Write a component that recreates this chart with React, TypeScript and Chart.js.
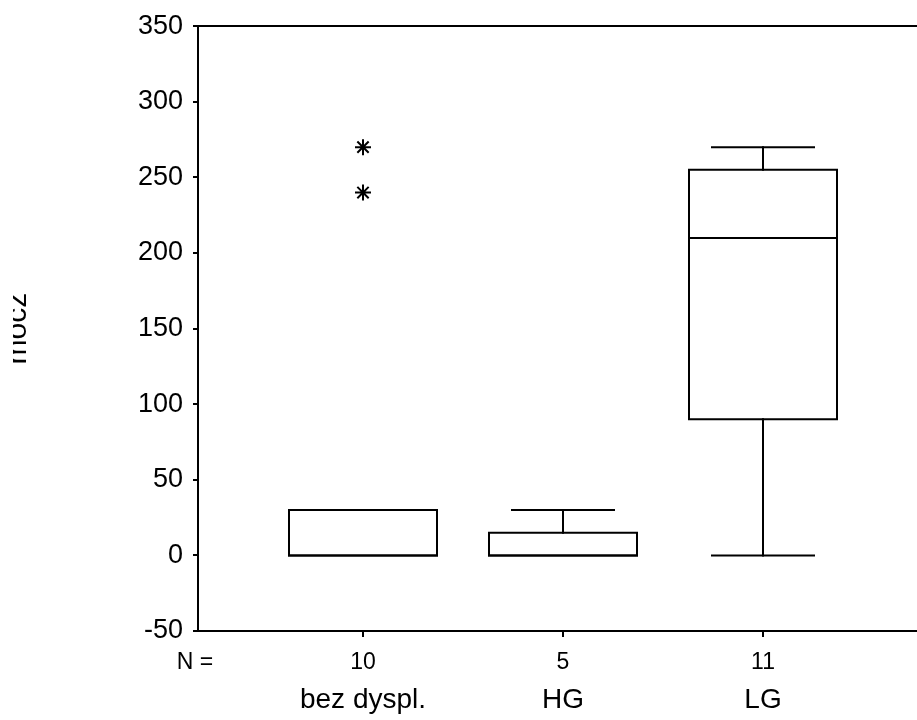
import React, { useEffect, useRef } from "react";
import { Chart, registerables } from "chart.js";

Chart.register(...registerables);

// ---- data ----
const categories = ["bez dyspl.", "HG", "LG"];
const counts = ["10", "5", "11"];
const mins = [0, 0, 0];
const q1s = [0, 0, 90];
const medians = [0, 0, 210];
const q3s = [30, 15, 255];
const maxs = [30, 30, 270];
const extremeGroups = [1, 1];
const extremeValues = [270, 240];
const yTicks = [-50, 0, 50, 100, 150, 200, 250, 300, 350];
const yTitle = "mocz";
const countPrefix = "N =";

const FONT = "Arial, 'Liberation Sans', sans-serif";
const BOX_PX = 148;
const CAP_PX = 102;
const X_MIN = 0.175;
const X_MAX = 3.77;
const N_FONT = 23;
const N_PAD = 12;
const N_TICK = 6;

const positions = categories.map((_, i) => i + 1);

const boxExtras = {
  id: "boxExtras",
  afterDatasetsDraw(chart: any) {
    const { ctx } = chart;
    const x = chart.scales.x;
    const y = chart.scales.y;
    ctx.save();
    ctx.strokeStyle = "#000";
    ctx.lineWidth = 2;
    ctx.lineCap = "square";
    const line = (x1: number, y1: number, x2: number, y2: number) => {
      ctx.beginPath();
      ctx.moveTo(x1, y1);
      ctx.lineTo(x2, y2);
      ctx.stroke();
    };
    positions.forEach((p, i) => {
      const cx = Math.round(x.getPixelForValue(p));
      const yq1 = y.getPixelForValue(q1s[i]);
      const yq3 = y.getPixelForValue(q3s[i]);
      if (maxs[i] > q3s[i]) {
        const ym = y.getPixelForValue(maxs[i]);
        line(cx, yq3, cx, ym);
        line(cx - CAP_PX / 2, ym, cx + CAP_PX / 2, ym);
      }
      if (mins[i] < q1s[i]) {
        const ym = y.getPixelForValue(mins[i]);
        line(cx, yq1, cx, ym);
        line(cx - CAP_PX / 2, ym, cx + CAP_PX / 2, ym);
      }
      // box outline
      ctx.beginPath();
      ctx.rect(cx - BOX_PX / 2, yq3, BOX_PX, yq1 - yq3);
      ctx.stroke();
      const ymed = y.getPixelForValue(medians[i]);
      line(cx - BOX_PX / 2, ymed, cx + BOX_PX / 2, ymed);
    });
    ctx.restore();

    // "N =" prefix aligned with count labels
    ctx.save();
    ctx.fillStyle = "#000";
    ctx.font = `${N_FONT}px ${FONT}`;
    ctx.textAlign = "center";
    ctx.textBaseline = "middle";
    ctx.fillText(countPrefix, 195, x.top + N_TICK + N_PAD + (N_FONT * 1.2) / 2);
    ctx.restore();

    // clipped, rotated y title
    ctx.save();
    ctx.beginPath();
    ctx.rect(13, 0, 200, chart.height);
    ctx.clip();
    ctx.translate(26, (chart.chartArea.top + chart.chartArea.bottom) / 2);
    ctx.rotate(-Math.PI / 2);
    ctx.fillStyle = "#000";
    ctx.font = `30px ${FONT}`;
    ctx.textAlign = "center";
    ctx.textBaseline = "alphabetic";
    ctx.fillText(yTitle, 0, 0);
    ctx.restore();
  },
};

export default function App() {
  const ref = useRef<HTMLCanvasElement | null>(null);
  useEffect(() => {
    if (!ref.current) return;
    const setTicks = (s: any) => {
      s.ticks = positions.map((v) => ({ value: v }));
    };
    const chart = new Chart(ref.current, {
      type: "scatter",
      data: {
        datasets: [
          {
            type: "bar",
            data: positions.map((p, i) => ({ x: p, y: [q1s[i], q3s[i]] })) as any,
            backgroundColor: "#fff",
            borderWidth: 0,
            barThickness: BOX_PX,
            xAxisID: "x",
            yAxisID: "y",
          } as any,
          {
            type: "scatter",
            data: extremeValues.map((v, i) => ({ x: extremeGroups[i], y: v })),
            pointStyle: "star",
            radius: 8,
            borderColor: "#000",
            backgroundColor: "#000",
            borderWidth: 2,
            xAxisID: "x",
            yAxisID: "y",
          } as any,
        ],
      },
      options: {
        animation: false,
        responsive: false,
        events: [],
        layout: { autoPadding: false, padding: { top: 22, left: 0, right: 0, bottom: 0 } },
        plugins: { legend: { display: false }, tooltip: { enabled: false } },
        scales: {
          x: {
            type: "linear",
            position: "bottom",
            min: X_MIN,
            max: X_MAX,
            offset: false,
            afterBuildTicks: setTicks,
            afterFit: (s: any) => {
              s.height = 46;
            },
            ticks: {
              autoSkip: false,
              maxRotation: 0,
              padding: N_PAD,
              color: "#000",
              font: { size: N_FONT, family: FONT },
              callback: (_v: any, idx: number) => counts[idx],
            },
            grid: {
              color: "transparent",
              tickColor: "#000",
              tickLength: N_TICK,
              lineWidth: 2,
              offset: false,
            },
            border: { color: "#000", width: 2 },
          },
          x2: {
            type: "linear",
            position: "bottom",
            min: X_MIN,
            max: X_MAX,
            offset: false,
            afterBuildTicks: setTicks,
            afterFit: (s: any) => {
              s.height = 43;
            },
            ticks: {
              autoSkip: false,
              maxRotation: 0,
              padding: 6,
              color: "#000",
              font: { size: 28, family: FONT },
              callback: (_v: any, idx: number) => categories[idx],
            },
            grid: { display: false, drawTicks: false },
            border: { display: false },
          },
          y: {
            type: "linear",
            min: -50,
            max: 350,
            afterBuildTicks: (s: any) => {
              s.ticks = yTicks.map((v) => ({ value: v }));
            },
            afterFit: (s: any) => {
              s.width = 198;
            },
            ticks: {
              autoSkip: false,
              padding: 10,
              color: "#000",
              font: { size: 27, family: FONT },
            },
            grid: {
              color: (c: any) => (c.tick && c.tick.value === 350 ? "#000" : "transparent"),
              tickColor: "#000",
              tickLength: 5,
              lineWidth: 2,
            },
            border: { color: "#000", width: 2 },
          },
        },
      },
      plugins: [boxExtras],
    });
    return () => chart.destroy();
  }, []);
  return (
    <div style={{ position: "fixed", left: 0, top: 0, width: 917, height: 720, background: "#fff" }}>
      <canvas ref={ref} width={917} height={720} />
    </div>
  );
}
